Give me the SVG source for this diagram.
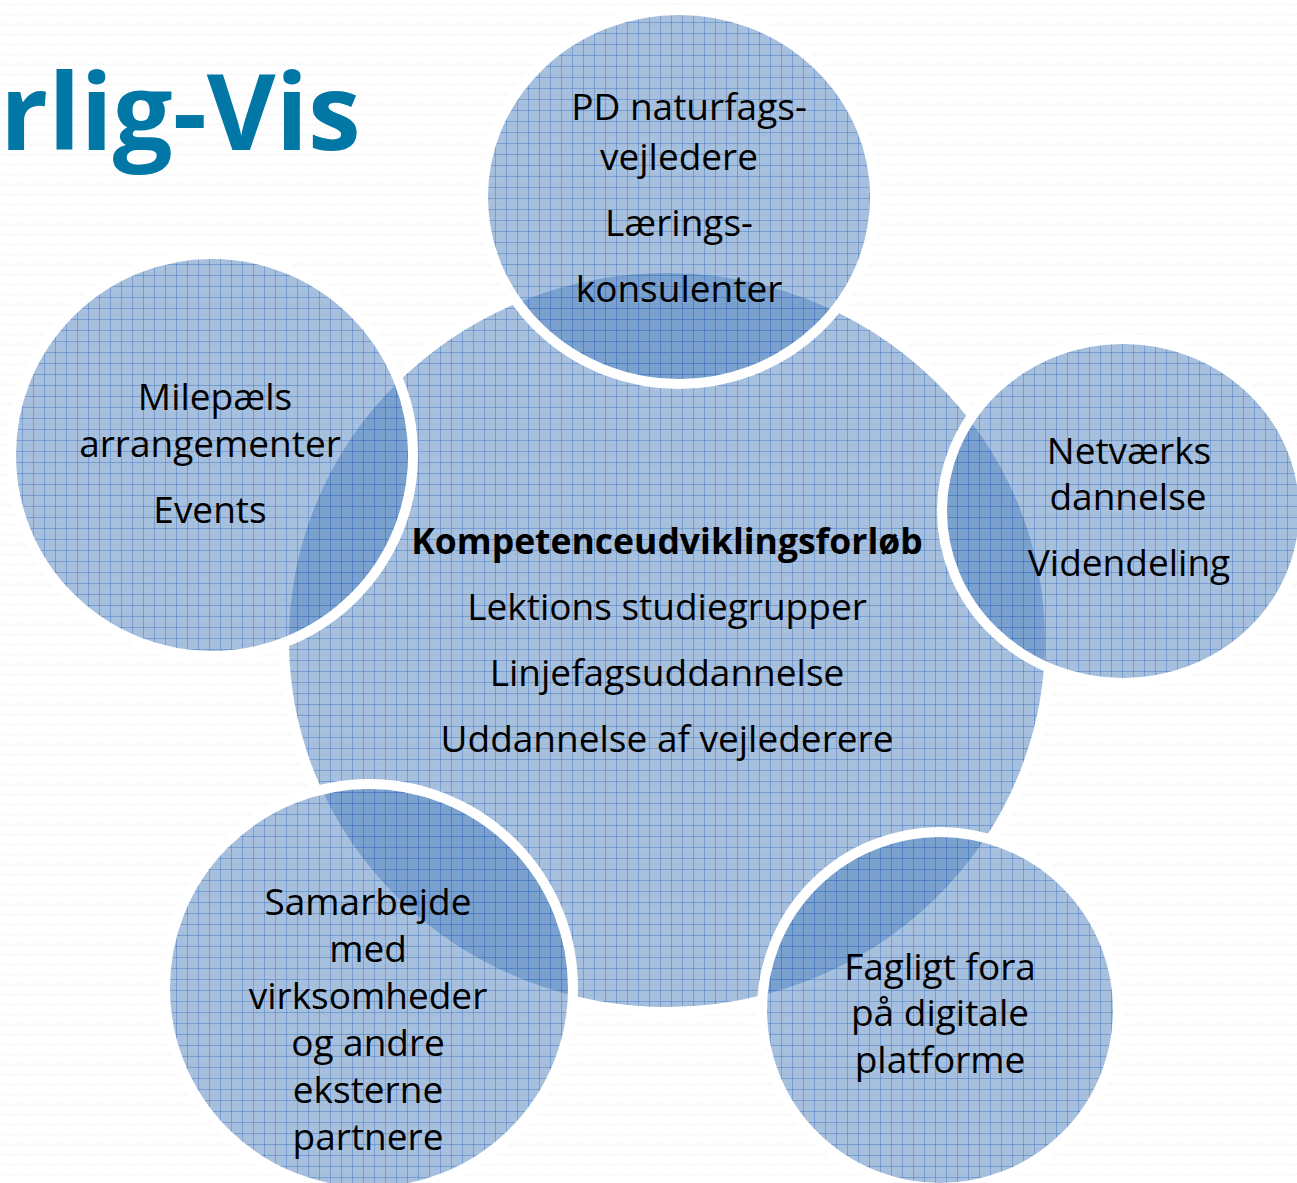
<svg xmlns="http://www.w3.org/2000/svg" width="1297" height="1183" viewBox="0 0 1297 1183">
<defs>
<pattern id="bg" width="10" height="10" patternUnits="userSpaceOnUse">
<rect width="10" height="10" fill="#ffffff"/>
<path d="M0,6 L2.5,3 L5,6 L7.5,3 L10,6" fill="none" stroke="#f3f3f3" stroke-width="1"/>
</pattern>
<pattern id="grid" width="11" height="11" patternUnits="userSpaceOnUse">
<rect width="11" height="11" fill="rgb(79,129,189)" fill-opacity="0.5"/>
<path d="M0,0.5 H11 M0.5,0 V11" stroke="#3f74c4" stroke-opacity="0.45" stroke-width="1"/>
</pattern>
</defs>
<style>
.c{fill:url(#grid);stroke:#ffffff;stroke-width:10}
.t{font-family:"Open Sans","Liberation Sans",sans-serif;font-size:37px;fill:#000000;text-anchor:middle}
.b{font-weight:bold;font-size:35.5px}
.title{font-family:"Open Sans","Liberation Sans",sans-serif;font-weight:bold;font-size:106px;fill:#0077a5}
</style>
<rect width="1297" height="1183" fill="url(#bg)"/>
<text class="title" x="0" y="150">rlig-Vis</text>
<g id="connectors"/>
<g id="center">
<ellipse class="c" cx="667" cy="640" rx="383" ry="372"/>
<text class="t b" x="667" y="554">Kompetenceudviklingsforløb</text>
<text class="t" x="667" y="620">Lektions studiegrupper</text>
<text class="t" x="667" y="686">Linjefagsuddannelse</text>
<text class="t" x="667" y="752">Uddannelse af vejlederere</text>
</g>
<g id="top">
<ellipse class="c" cx="679" cy="197" rx="196" ry="187"/>
<text class="t" x="689" y="120">PD naturfags-</text>
<text class="t" x="679" y="170">vejledere</text>
<text class="t" x="679" y="236">Lærings-</text>
<text class="t" x="679" y="302">konsulenter</text>
</g>
<g id="left">
<ellipse class="c" cx="212" cy="455" rx="201" ry="201"/>
<text class="t" x="215" y="410">Milepæls</text>
<text class="t" x="210" y="457">arrangementer</text>
<text class="t" x="210" y="523">Events</text>
</g>
<g id="right">
<ellipse class="c" cx="1123" cy="511" rx="181" ry="172"/>
<text class="t" x="1129" y="464">Netværks</text>
<text class="t" x="1128" y="510">dannelse</text>
<text class="t" x="1129" y="576">Videndeling</text>
</g>
<g id="bottomleft">
<ellipse class="c" cx="369" cy="988" rx="204" ry="204"/>
<text class="t" x="368" y="915">Samarbejde</text>
<text class="t" x="368" y="962">med</text>
<text class="t" x="368" y="1009">virksomheder</text>
<text class="t" x="368" y="1056">og andre</text>
<text class="t" x="368" y="1103">eksterne</text>
<text class="t" x="368" y="1150">partnere</text>
</g>
<g id="bottomright">
<ellipse class="c" cx="940" cy="1010" rx="178" ry="178"/>
<text class="t" x="940" y="980">Fagligt fora</text>
<text class="t" x="940" y="1026">på digitale</text>
<text class="t" x="940" y="1073">platforme</text>
</g>
</svg>
